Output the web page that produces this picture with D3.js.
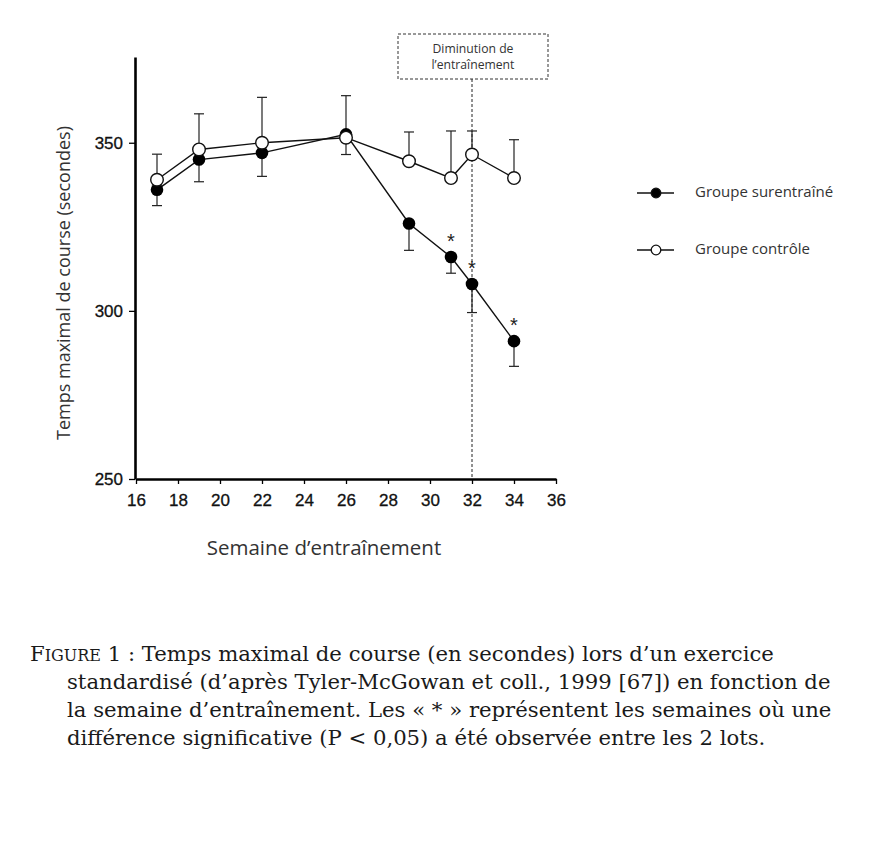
<!DOCTYPE html>
<html>
<head>
<meta charset="utf-8">
<script src="https://cdn.jsdelivr.net/npm/d3@7"></script>
<style>
  body { margin: 0; background: #fff; }
  .axis path, .axis line { stroke: #000; }
  .axis text { font-family: "Liberation Sans", Arial, sans-serif; font-size: 17px; fill: #111; }
  .label { font-family: "Open Sans", Lato, sans-serif; fill: #333; }
  .caption { font-family: "DejaVu Serif", "Liberation Serif", serif; font-size: 21.2px; fill: #1a1a1a; }
</style>
</head>
<body>
<div id="chart"></div>
<script>
// weeks of training
const weeks = [17, 19, 22, 26, 29, 31, 32, 34];
// overtrained group, mean and (downward) error
const surentraine = [336, 345, 347, 352.5, 326, 316, 308, 291];
const surentraineErr = [4.7, 6.6, 7, 6, 8, 4.8, 8.5, 7.5];
// control group, mean and (upward) error
const controle = [339, 348, 350, 351.5, 344.5, 339.5, 346.5, 339.5];
const controleErr = [7.6, 10.6, 13.5, 12.5, 8.7, 14, 7, 11.4];
// weeks where the difference is significant
const significant = [31, 32, 34];

const xTicks = [16, 18, 20, 22, 24, 26, 28, 30, 32, 34, 36];
const yTicks = [250, 300, 350];

const captionLines = [
  { text: "Temps maximal de course (en secondes) lors d\u2019un exercice", indent: false },
  { text: "standardisé (d\u2019après Tyler-McGowan et coll., 1999 [67]) en fonction de", indent: true },
  { text: "la semaine d\u2019entraînement. Les « * » représentent les semaines où une", indent: true },
  { text: "différence significative (P < 0,05) a été observée entre les 2 lots.", indent: true }
];

const W = 886, H = 842;
const svg = d3.select("#chart").append("svg")
  .attr("width", W)
  .attr("height", H);

// plot area
const plotL = 136, plotR = 556, plotT = 57, plotB = 479;

const x = d3.scaleLinear().domain([16, 36]).range([plotL, plotR]);
const y = d3.scaleLinear().domain([250, 375.5]).range([plotB, plotT]);

// y axis
const yAxis = svg.append("g")
  .attr("class", "axis")
  .attr("transform", "translate(" + (plotL - 1) + ",0)")
  .call(d3.axisLeft(y).tickValues(yTicks).tickSize(6).tickPadding(6).tickSizeOuter(0));
yAxis.select(".domain").attr("stroke-width", 2.6);
yAxis.selectAll("line").attr("stroke-width", 1.3);

// x axis
const xAxis = svg.append("g")
  .attr("class", "axis")
  .attr("transform", "translate(0," + plotB + ")")
  .call(d3.axisBottom(x).tickValues(xTicks).tickSize(5).tickPadding(10).tickSizeOuter(0));
xAxis.select(".domain").attr("stroke-width", 2.6);
xAxis.selectAll("line").attr("stroke-width", 1.3);
svg.selectAll(".axis text").attr("stroke", "#111").attr("stroke-width", 0.3);

// annotation box and dashed line at week 32
const boxX0 = 398, boxX1 = 548, boxY0 = 34, boxY1 = 79;
svg.append("rect")
  .attr("x", boxX0).attr("y", boxY0)
  .attr("width", boxX1 - boxX0).attr("height", boxY1 - boxY0)
  .attr("fill", "none").attr("stroke", "#333")
  .attr("stroke-width", 1).attr("stroke-dasharray", "3,2");
svg.append("line")
  .attr("x1", x(32)).attr("x2", x(32))
  .attr("y1", boxY1).attr("y2", plotB)
  .attr("stroke", "#222").attr("stroke-width", 1).attr("stroke-dasharray", "3,2");
svg.append("text").attr("class", "label")
  .attr("x", (boxX0 + boxX1) / 2).attr("y", 53)
  .attr("text-anchor", "middle").attr("font-size", 12.2)
  .text("Diminution de");
svg.append("text").attr("class", "label")
  .attr("x", (boxX0 + boxX1) / 2).attr("y", 69)
  .attr("text-anchor", "middle").attr("font-size", 12.2)
  .text("l\u2019entraînement");

const line = d3.line()
  .x(d => x(d[0]))
  .y(d => y(d[1]));

const ctrlData = weeks.map((w, i) => [w, controle[i], controleErr[i]]);
const surData = weeks.map((w, i) => [w, surentraine[i], surentraineErr[i]]);

const capW = 5;

// control error bars (up)
svg.selectAll(".errC").data(ctrlData).enter().append("g")
  .each(function(d) {
    const g = d3.select(this);
    g.append("line").attr("x1", x(d[0])).attr("x2", x(d[0]))
      .attr("y1", y(d[1])).attr("y2", y(d[1] + d[2]))
      .attr("stroke", "#222").attr("stroke-width", 1.2);
    g.append("line").attr("x1", x(d[0]) - capW).attr("x2", x(d[0]) + capW)
      .attr("y1", y(d[1] + d[2])).attr("y2", y(d[1] + d[2]))
      .attr("stroke", "#222").attr("stroke-width", 1.2);
  });

// overtrained error bars (down)
svg.selectAll(".errS").data(surData).enter().append("g")
  .each(function(d) {
    const g = d3.select(this);
    g.append("line").attr("x1", x(d[0])).attr("x2", x(d[0]))
      .attr("y1", y(d[1])).attr("y2", y(d[1] - d[2]))
      .attr("stroke", "#222").attr("stroke-width", 1.2);
    g.append("line").attr("x1", x(d[0]) - capW).attr("x2", x(d[0]) + capW)
      .attr("y1", y(d[1] - d[2])).attr("y2", y(d[1] - d[2]))
      .attr("stroke", "#222").attr("stroke-width", 1.2);
  });

// lines
svg.append("path").datum(surData)
  .attr("d", line).attr("fill", "none")
  .attr("stroke", "#111").attr("stroke-width", 1.4);
svg.append("path").datum(ctrlData)
  .attr("d", line).attr("fill", "none")
  .attr("stroke", "#111").attr("stroke-width", 1.4);

// points
svg.selectAll(".ptS").data(surData).enter().append("circle")
  .attr("cx", d => x(d[0])).attr("cy", d => y(d[1]))
  .attr("r", 6.3).attr("fill", "#000");
svg.selectAll(".ptC").data(ctrlData).enter().append("circle")
  .attr("cx", d => x(d[0])).attr("cy", d => y(d[1]))
  .attr("r", 6.3).attr("fill", "#fff")
  .attr("stroke", "#111").attr("stroke-width", 1.4);

// asterisks
svg.selectAll(".star").data(surData.filter(d => significant.includes(d[0]))).enter()
  .append("text")
  .attr("x", d => x(d[0]))
  .attr("y", d => y(d[1]) - 9)
  .attr("text-anchor", "middle")
  .attr("font-family", "Liberation Sans, Arial, sans-serif")
  .attr("font-size", 20).attr("fill", "#222")
  .text("*");

// legend
const legend = [
  { name: "Groupe surentraîné", fill: "#000", y: 193 },
  { name: "Groupe contrôle", fill: "#fff", y: 250 }
];
legend.forEach(l => {
  svg.append("line").attr("x1", 637).attr("x2", 674)
    .attr("y1", l.y).attr("y2", l.y)
    .attr("stroke", "#111").attr("stroke-width", 1.3);
  svg.append("circle").attr("cx", 656).attr("cy", l.y).attr("r", 4.8)
    .attr("fill", l.fill).attr("stroke", "#111").attr("stroke-width", 1.3);
  svg.append("text").attr("class", "label")
    .attr("x", 695).attr("y", l.y + 3.5)
    .attr("font-size", 15)
    .text(l.name);
});

// axis titles
svg.append("text").attr("class", "label")
  .attr("x", 324).attr("y", 555)
  .attr("text-anchor", "middle").attr("font-size", 20.5)
  .text("Semaine d\u2019entraînement");
svg.append("text").attr("class", "label")
  .attr("transform", "translate(70,283) rotate(-90)")
  .attr("text-anchor", "middle").attr("font-size", 18)
  .text("Temps maximal de course (secondes)");

// caption
const cap = svg.append("g").attr("class", "caption");
captionLines.forEach((l, i) => {
  const t = cap.append("text")
    .attr("x", l.indent ? 67 : 30)
    .attr("y", 661 + i * 28);
  if (!l.indent) {
    t.append("tspan").text("F");
    t.append("tspan").attr("font-size", 16).text("IGURE");
    t.append("tspan").text(" 1 : " + l.text);
  } else {
    t.text(l.text);
  }
});
</script>
</body>
</html>
